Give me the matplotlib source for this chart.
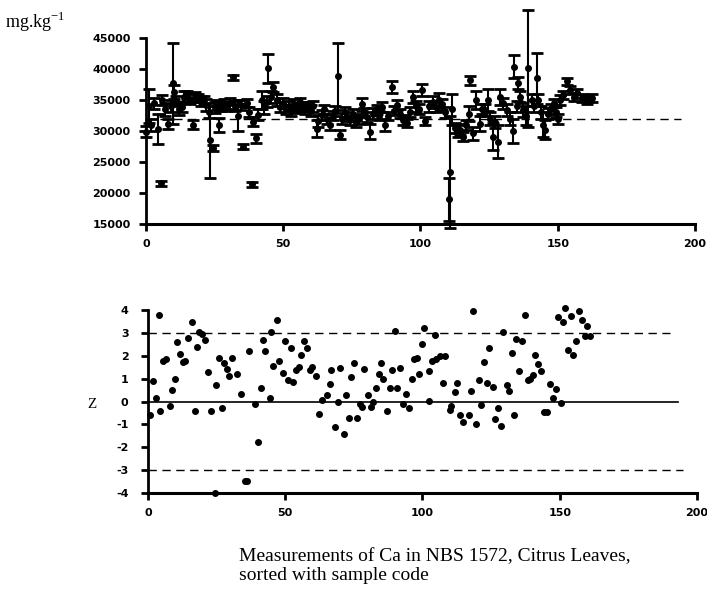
import matplotlib
matplotlib.use("Agg")
import matplotlib.pyplot as plt

# top panel: Ca measurements (mg/kg) with uncertainties, sorted by sample code
x_top = [0, 1, 2, 3, 4.5, 5.3, 6, 7, 8, 9,
         9.7, 10.3, 11, 12, 13, 14, 15, 16, 17.2, 18,
         19, 20, 21, 22, 23, 23.2, 24.3, 25, 26, 26.7,
         27.5, 28.5, 29.5, 30.5, 31.8, 32.5, 33.6, 34.5, 35.5, 36.7,
         37.5, 38.5, 38.9, 40.1, 40.9, 42.1, 43, 44, 44.6, 45.5,
         46.4, 47.6, 48.8, 50, 51, 52, 53, 54, 55, 56,
         57, 58, 59, 60, 61, 62.2, 62.8, 64, 65, 66,
         67, 68, 69, 69.8, 70.7, 71.5, 72.5, 73.5, 74.5, 75.5,
         76.5, 77.5, 78.6, 79.5, 80.5, 81.6, 82.8, 84, 85, 86,
         87.1, 88, 89.5, 90.3, 91.3, 92.5, 93.7, 95, 96, 97.4,
         98.5, 99.5, 100.4, 101.6, 103, 104.5, 105.5, 106.8, 108, 109,
         110.3, 110.8, 111.5, 112.5, 113.5, 114.4, 115.6, 116.5, 117.5, 118.1,
         119.2, 120.4, 121.7, 122.5, 123.5, 124.7, 125.5, 126.3, 127.3, 128.4,
         129, 130.2, 131.4, 132.5, 133.6, 134.2, 135, 135.6, 136.3, 137.4,
         138.3, 139.3, 140.5, 141.5, 142.3, 142.9, 143.8, 144.7, 145.3, 146.6,
         147.5, 148.5, 149.3, 150.2, 150.9, 152.1, 153.3, 154.5, 155.8, 157,
         158.8, 160.6, 162.4]
ca = [29900, 34000, 31000, 34500, 30300, 21600, 35000, 33500, 31200, 34000,
      37700, 36300, 34800, 33500, 33900, 35500, 35800, 35200, 31000, 35500,
      35300, 34800, 35000, 34200, 33100, 28500, 27200, 33800, 34200, 31000,
      33900, 34300, 34000, 34500, 38700, 34000, 32500, 34200, 27500, 34500,
      33000, 21400, 31500, 28800, 32600, 35000, 33800, 34700, 40100, 35500,
      37100, 35000, 33900, 34500, 33500, 34000, 33200, 34300, 33600, 34600,
      34000, 33500, 33900, 33300, 34000, 30400, 31600, 32600, 33500, 32000,
      31000, 32500, 33200, 38800, 29400, 32000, 33000, 32300, 31700, 32800,
      31500, 32000, 34300, 33000, 32200, 29900, 32800, 33500, 32500, 33800,
      31000, 32400, 37100, 33300, 34200, 32800, 31800, 31300, 33000, 35500,
      34000, 33500, 36600, 31600, 34000, 34700, 33800, 35000, 34300, 33000,
      19000, 23400, 33500, 30500, 30000, 30200, 29100, 31000, 32800, 38200,
      29600, 35000, 31200, 33500, 33400, 35000, 32000, 29100, 31500, 28300,
      35500, 34500, 33400, 32000, 30000, 40400, 34000, 37700, 35500, 33400,
      32500, 40100, 35000, 34000, 38500, 35000, 33000, 31000, 30200, 32800,
      33500, 34500, 33000, 32000, 35000, 35800, 38000, 36600, 35500, 36100,
      35300, 35000, 35300]
ca_err = [900, 2700, 1000, 900, 2400, 400, 800, 1000, 800, 1000,
          6500, 1200, 800, 900, 800, 900, 700, 800, 700, 800,
          700, 800, 700, 900, 1000, 6000, 500, 900, 800, 1100,
          700, 800, 700, 900, 400, 800, 2500, 800, 400, 600,
          800, 400, 700, 700, 900, 1500, 1000, 900, 2300, 1000,
          800, 900, 800, 800, 700, 800, 700, 800, 700, 800,
          700, 800, 700, 900, 900, 1300, 1000, 800, 700, 800,
          900, 700, 800, 5400, 700, 900, 800, 700, 800, 700,
          900, 800, 1000, 700, 800, 1200, 900, 700, 800, 800,
          1000, 700, 1000, 700, 800, 700, 800, 700, 800, 1000,
          900, 800, 1000, 700, 900, 1000, 800, 1200, 900, 900,
          3500, 9000, 2500, 800, 900, 900, 700, 800, 1200, 700,
          1000, 1500, 1200, 800, 900, 1700, 1000, 2200, 1000, 2700,
          1300, 900, 1000, 1000, 2000, 1800, 900, 1000, 900, 1100,
          1500, 9400, 900, 1000, 4100, 1000, 1000, 2000, 1500, 900,
          800, 700, 800, 800, 800, 700, 500, 700, 700, 700,
          600, 600, 600]
assigned = 32000

# bottom panel: z-scores
x_z = [0.85, 1.8, 3.0, 4.0, 4.2, 5.5, 6.7, 7.9, 8.9, 9.9,
       10.7, 11.8, 12.6, 13.4, 14.6, 15.9, 17.1, 17.7, 18.7, 19.6,
       20.7, 21.8, 22.9, 24.4, 24.8, 25.7, 26.8, 27.7, 28.7, 29.6,
       30.7, 32.6, 33.9, 35.4, 36.2, 36.7, 39.0, 40.1, 41.0, 41.8,
       42.8, 44.3, 45.0, 45.7, 47.0, 47.7, 49.1, 50.0, 51.0, 52.0,
       53.0, 53.9, 54.9, 55.9, 56.9, 57.9, 58.9, 59.9, 61.1, 62.2,
       63.3, 65.2, 66.2, 66.8, 68.2, 69.1, 69.9, 71.3, 72.3, 73.2,
       74.1, 75.0, 76.2, 77.1, 77.9, 78.7, 80.1, 81.1, 82.0, 83.1,
       84.0, 84.9, 85.7, 87.2, 88.0, 88.9, 90.0, 90.9, 91.8, 93.0,
       94.0, 95.1, 96.1, 97.0, 97.9, 98.9, 99.8, 100.7, 102.2, 102.4,
       103.3, 104.5, 105.1, 106.3, 107.5, 108.2, 109.9, 110.5, 111.7, 112.6,
       113.5, 114.7, 116.8, 117.5, 118.4, 119.6, 120.5, 121.5, 122.3, 123.6,
       124.4, 125.6, 126.6, 127.4, 128.6, 129.5, 130.7, 131.4, 132.5, 133.5,
       134.1, 135.3, 136.2, 137.3, 138.3, 139.3, 140.1, 141.1, 142.0, 143.1,
       144.3, 145.2, 146.4, 147.6, 148.6, 149.2, 150.5, 151.3, 151.9, 153.1,
       154.1, 155.0, 156.0, 157.1, 158.0, 159.1, 160.0, 160.9]
z = [-0.6, 0.9, 0.17, 3.8, -0.42, 1.77, 1.87, -0.19, 0.49, 1.0,
     2.59, 2.07, 1.72, 1.78, 2.78, 3.49, -0.42, 2.39, 3.03, 2.93,
     2.71, 1.29, -0.42, -4.0, 0.71, 1.9, -0.30, 1.7, 1.43, 1.12,
     1.9, 1.22, 0.32, -3.48, -3.48, 2.22, -0.09, -1.78, 0.61, 2.71,
     2.23, 0.14, 3.04, 1.54, 3.55, 1.77, 1.26, 2.64, 0.94, 2.35,
     0.86, 1.38, 1.52, 2.03, 2.64, 2.35, 1.38, 1.52, 1.12, -0.54,
     0.07, 0.28, 0.75, 1.38, -1.13, -0.04, 1.48, -1.43, 0.28, -0.72,
     1.09, 1.67, -0.72, -0.12, -0.26, 1.41, 0.28, -0.25, -0.04, 0.59,
     1.19, 1.67, 1.0, -0.42, 0.59, 1.38, 3.07, 0.59, 1.48, -0.12,
     0.32, -0.30, 0.97, 1.88, 1.9, 1.19, 2.52, 3.22, 0.03, 1.32,
     1.79, 2.91, 1.86, 1.97, 0.79, 1.99, -0.39, -0.2, 0.41, 0.8,
     -0.61, -0.9, -0.58, 0.44, 3.94, -0.99, 0.92, -0.17, 1.72, 0.82,
     2.34, 0.63, -0.76, -0.28, -1.09, 3.03, 0.74, 0.44, 2.13, -0.57,
     2.74, 1.32, 2.63, 3.78, 0.95, 0.99, 1.16, 2.05, 1.66, 1.35,
     -0.47, -0.47, 0.76, 0.17, 0.55, 3.68, -0.06, 3.46, 4.08, 2.26,
     3.76, 2.05, 2.63, 3.97, 3.57, 2.88, 3.28, 2.88]

plt.rcParams['font.family'] = 'DejaVu Sans'
plt.rcParams['axes.unicode_minus'] = False

fig = plt.figure(figsize=(7.07, 5.97), dpi=100)
ax1 = fig.add_axes([0.2065, 0.6248, 0.7765, 0.3115])
ax2 = fig.add_axes([0.2093, 0.1742, 0.7765, 0.3065])

# top panel
ax1.plot([0, 195], [assigned, assigned], color='black', lw=1, ls=(0, (6, 4)), zorder=1)
eb = ax1.errorbar(x_top, ca, yerr=ca_err, fmt='o', color='black', ms=4,
                  capsize=4, capthick=2, elinewidth=1.5, zorder=3, clip_on=False)
for a in list(eb.lines[1]) + list(eb.lines[2]):
    a.set_clip_on(False)
ax1.set_xlim(0, 200)
ax1.set_ylim(15000, 45000)
ax1.set_xticks([0, 50, 100, 150, 200])
ax1.set_yticks(range(15000, 45001, 5000))

# bottom panel
ax2.plot([0, 193], [0, 0], color='black', lw=1.2, zorder=1)
ax2.plot([0, 190], [3, 3], color='black', lw=1, ls=(0, (6, 4)), zorder=1)
ax2.plot([0, 195], [-3, -3], color='black', lw=1, ls=(0, (6, 4)), zorder=1)
ax2.scatter(x_z, z, s=16, color='black', zorder=3, clip_on=False)
ax2.set_xlim(0, 200)
ax2.set_ylim(-4, 4)
ax2.set_xticks([0, 50, 100, 150, 200])
ax2.set_yticks(range(-4, 5))

for ax in (ax1, ax2):
    ax.spines['top'].set_visible(False)
    ax.spines['right'].set_visible(False)
    ax.spines['left'].set_linewidth(2)
    ax.spines['bottom'].set_linewidth(2.2)
    ax.tick_params(direction='out', length=5, width=2, labelsize=8, pad=6)
    for lab in ax.get_xticklabels() + ax.get_yticklabels():
        lab.set_fontweight('bold')
ax2.tick_params(axis='y', pad=9)

fig.text(0.007, 0.963, 'mg.kg$^{\\mathregular{-1}}$', family='Liberation Serif',
         fontsize=13, ha='left', va='center')
fig.text(0.123, 0.322, 'Z', family='Liberation Serif', fontsize=11,
         ha='left', va='center')
fig.text(0.338, 0.052, 'Measurements of Ca in NBS 1572, Citrus Leaves,\nsorted with sample code',
         family='Liberation Serif', fontsize=14, ha='left', va='center',
         linespacing=1.15)

fig.savefig('out.png', dpi=100)
